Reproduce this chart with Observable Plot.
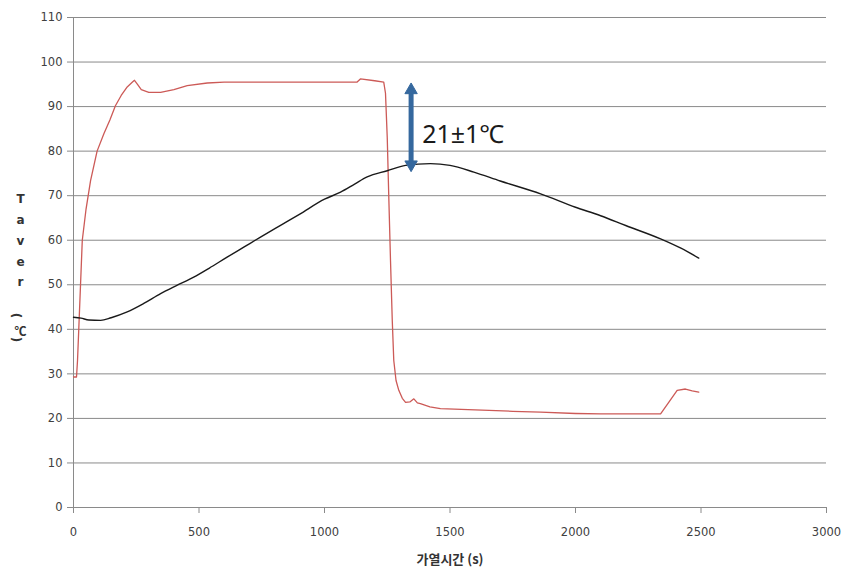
<!DOCTYPE html>
<html>
<head>
<meta charset="utf-8">
<script src="https://cdn.jsdelivr.net/npm/d3@7"></script>
<script src="https://cdn.jsdelivr.net/npm/@observablehq/plot@0.6"></script>
<style>
  html, body { margin: 0; padding: 0; background: #fff; }
  #chart svg { display: block; }
</style>
</head>
<body>
<div id="chart"></div>
<script>
// Red series (heater / plate temperature)
const redX = [0,12,16,21,28,35,50,68,94,121,145,167,190,214,235,243,255,270,300,347,400,453,533,600,800,1000,1130,1143,1200,1236,1243,1250,1256,1263,1270,1276,1285,1296,1310,1323,1340,1356,1370,1382,1420,1462,1600,1750,1861,2000,2100,2339,2370,2405,2438,2465,2491];
const redY = [29.3,29.3,33,40,50,60,67,73.4,80,83.9,87,90.2,92.5,94.4,95.5,95.9,95,93.8,93.2,93.2,93.8,94.7,95.3,95.5,95.5,95.5,95.5,96.2,95.8,95.5,93,83,70,55.4,42,33,28.5,26.3,24.5,23.6,23.7,24.4,23.5,23.3,22.6,22.2,21.9,21.6,21.4,21.1,21.0,21.0,23.5,26.3,26.6,26.2,25.9];
// Black series (average temperature)
const blackX = [0,30,61,108,150,214,280,347,410,479,540,612,680,745,830,900,1000,1064,1120,1170,1250,1323,1422,1500,1595,1700,1861,2000,2100,2200,2339,2420,2491];
const blackY = [42.7,42.5,42.1,42.0,42.6,43.9,45.8,48.0,49.8,51.7,53.7,56.2,58.5,60.7,63.5,65.8,69.2,70.8,72.6,74.2,75.6,76.8,77.2,76.8,75.3,73.3,70.4,67.4,65.5,63.3,60.3,58.2,56.0];

const xTicks = [0,500,1000,1500,2000,2500,3000];
const yTicks = [0,10,20,30,40,50,60,70,80,90,100,110];
const xLabel = "가열시간 (s)";
const yLabelTop = "T\na\nv\ne\nr";
const yLabelUnit = ["(", "℃", ")"];
const annotation = {x: 1345, yLow: 77.0, yHigh: 93.7, text: "21±1℃", tx: 1389, ty: 83.6};

const red = redX.map((x, i) => ({x, y: redY[i]}));
const black = blackX.map((x, i) => ({x, y: blackY[i]}));

const labelStyle = {frameAnchor: "top-left", fontSize: 12, fontWeight: "bold", fill: "#333", textAnchor: "middle"};

const plot = Plot.plot({
  width: 841,
  height: 569,
  marginLeft: 73,
  marginRight: 15,
  marginTop: 17,
  marginBottom: 62,
  style: {fontFamily: "DejaVu Sans, sans-serif", fontSize: "11.5px", color: "#404040", background: "#fff"},
  x: {domain: [0, 3000]},
  y: {domain: [0, 110]},
  marks: [
    Plot.gridY(yTicks, {stroke: "#8a8a8a", strokeOpacity: 1, strokeWidth: 1}),
    Plot.ruleX([0], {stroke: "#8a8a8a", strokeWidth: 1}),
    Plot.axisY({ticks: yTicks, tickSize: 6, tickPadding: 5, stroke: "#8a8a8a", label: null, fill: "#404040"}),
    Plot.axisX({ticks: xTicks, tickSize: 6, tickPadding: 14, tickFormat: d => String(d), stroke: "#8a8a8a", label: null, fill: "#404040"}),
    Plot.line(red, {x: "x", y: "y", stroke: "#cc5a57", strokeWidth: 1.3}),
    Plot.line(black, {x: "x", y: "y", stroke: "#1a1a1a", strokeWidth: 1.4, curve: "monotone-x"}),
    Plot.ruleX([annotation], {x: "x", y1: "yLow", y2: "yHigh", stroke: "#35689e", strokeWidth: 5}),
    Plot.dot([annotation], {x: "x", y: "yHigh", symbol: "triangle", r: 4.6, fill: "#35689e", stroke: "#35689e", strokeWidth: 1}),
    Plot.dot([annotation], {x: "x", y: "yLow", symbol: "triangle", rotate: 180, r: 4.6, fill: "#35689e", stroke: "#35689e", strokeWidth: 1}),
    Plot.text([annotation], {x: "tx", y: "ty", text: "text", textAnchor: "start", fontSize: 25, fill: "#1a1a1a", fontFamily: "Noto Sans, Noto Sans CJK KR, sans-serif"}),
    Plot.text([xLabel], {frameAnchor: "bottom", dy: 56, text: d => d, fontSize: 13, fontWeight: "bold", fill: "#333", fontFamily: "Noto Sans CJK KR, sans-serif"}),
    Plot.text([yLabelTop], {...labelStyle, dx: -53, dy: 171, text: d => d, lineAnchor: "top", lineHeight: 1.73}),
    Plot.text([yLabelUnit[0]], {...labelStyle, dx: -53, dy: 298, text: d => d, rotate: 90, fontSize: 12}),
    Plot.text([yLabelUnit[1]], {...labelStyle, dx: -53, dy: 310, text: d => d, fontSize: 12, fontFamily: "Noto Sans CJK KR, sans-serif"}),
    Plot.text([yLabelUnit[2]], {...labelStyle, dx: -53, dy: 322, text: d => d, rotate: 90, fontSize: 12})
  ]
});
document.getElementById("chart").appendChild(plot);
</script>
</body>
</html>
